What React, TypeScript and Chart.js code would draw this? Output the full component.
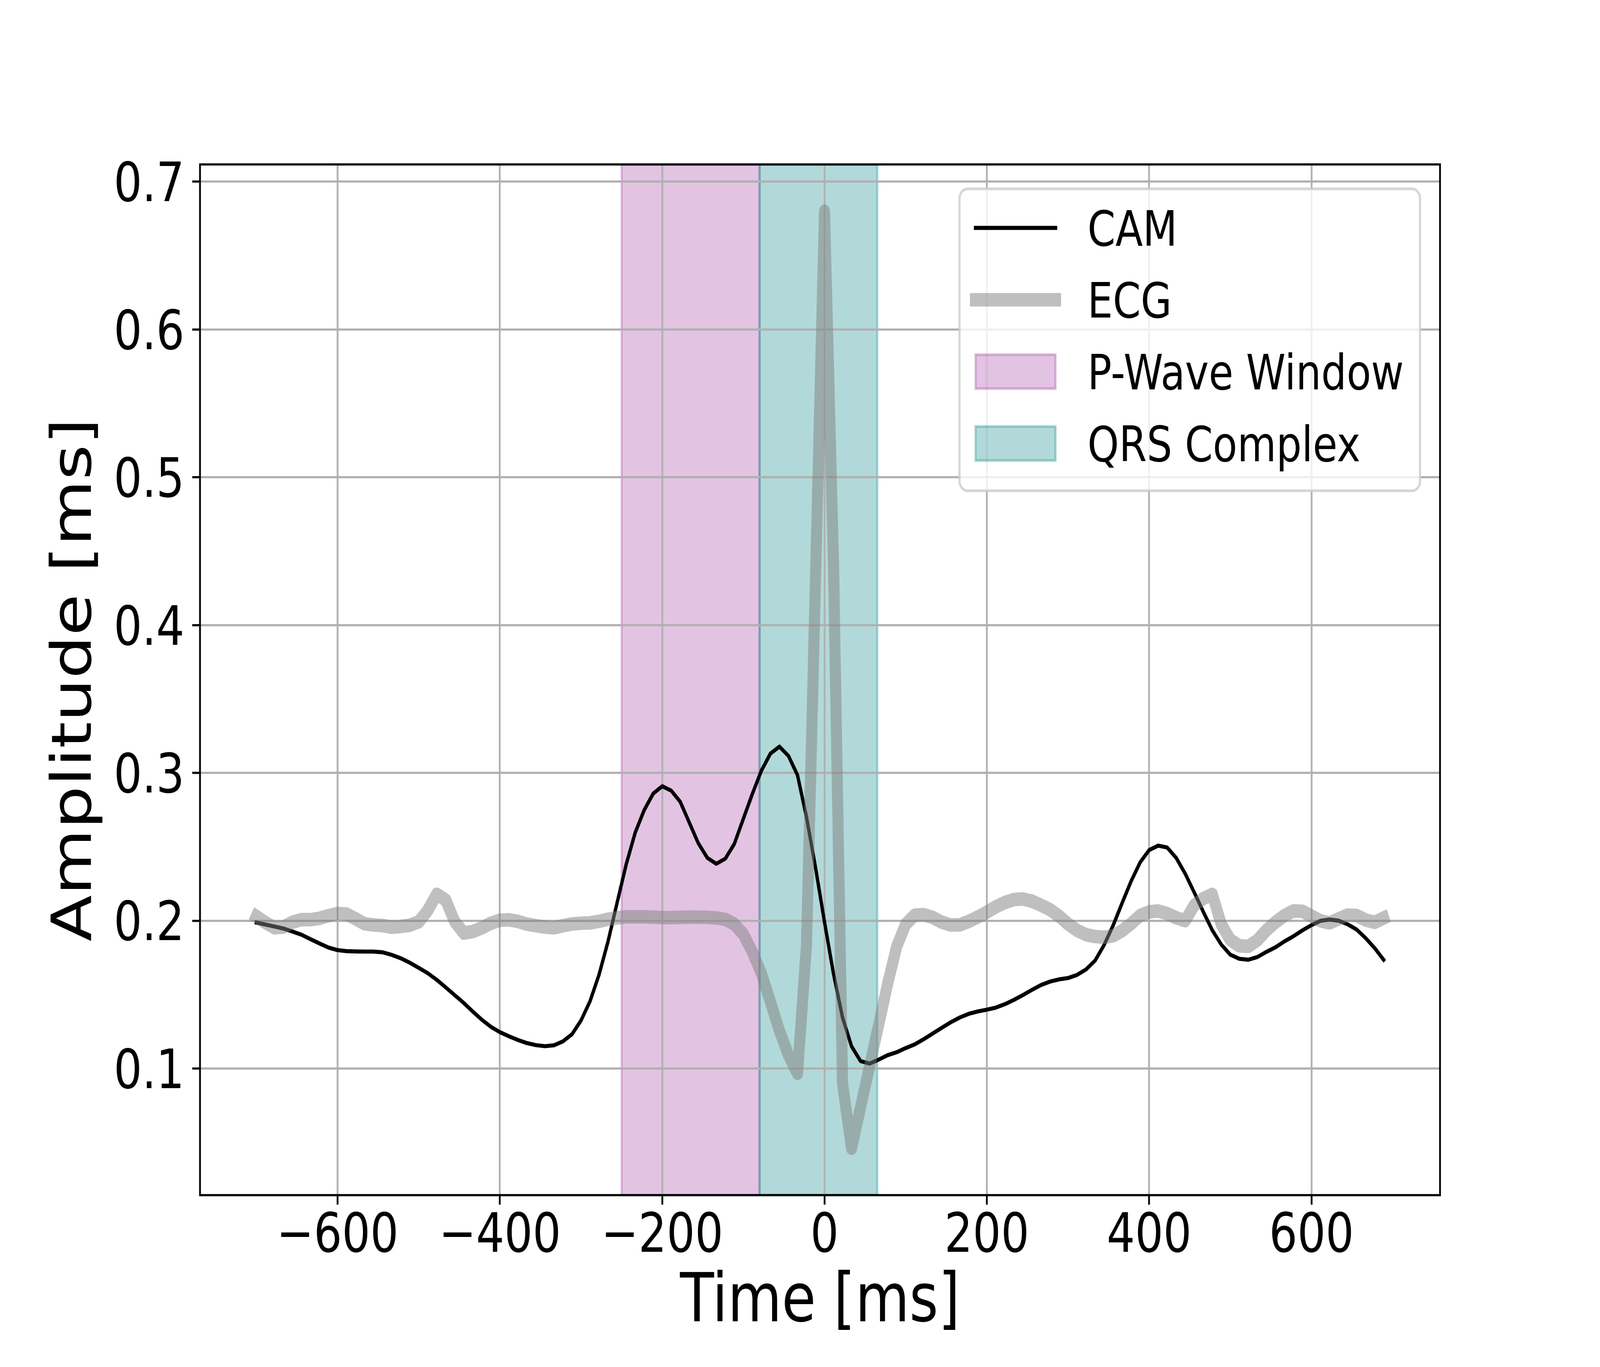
import { useEffect, useRef } from "react";
import { Chart, registerables } from "chart.js";

Chart.register(...registerables);

// sample times (ms), camera and ECG traces
const TIME_MS = [
  -700.0, -688.9, -677.8, -666.7, -655.6, -644.4, -633.3, -622.2, -611.1, -600.0,
  -588.9, -577.8, -566.7, -555.6, -544.4, -533.3, -522.2, -511.1, -500.0, -488.9,
  -477.8, -466.7, -455.6, -444.4, -433.3, -422.2, -411.1, -400.0, -388.9, -377.8,
  -366.7, -355.6, -344.4, -333.3, -322.2, -311.1, -300.0, -288.9, -277.8, -266.7,
  -255.6, -244.4, -233.3, -222.2, -211.1, -200.0, -188.9, -177.8, -166.7, -155.6,
  -144.4, -133.3, -122.2, -111.1, -100.0, -88.9, -77.8, -66.7, -55.6, -44.4,
  -33.3, -22.2, -11.1, 0.0, 11.1, 22.2, 33.3, 44.4, 55.6, 66.7,
  77.8, 88.9, 100.0, 111.1, 122.2, 133.3, 144.4, 155.6, 166.7, 177.8,
  188.9, 200.0, 211.1, 222.2, 233.3, 244.4, 255.6, 266.7, 277.8, 288.9,
  300.0, 311.1, 322.2, 333.3, 344.4, 355.6, 366.7, 377.8, 388.9, 400.0,
  411.1, 422.2, 433.3, 444.4, 455.6, 466.7, 477.8, 488.9, 500.0, 511.1,
  522.2, 533.3, 544.4, 555.6, 566.7, 577.8, 588.9, 600.0, 611.1, 622.2,
  633.3, 644.4, 655.6, 666.7, 677.8, 688.9,
];

const CAM = [
  0.1987, 0.1974, 0.1961, 0.1947, 0.1927, 0.1905, 0.1875, 0.1846, 0.1818, 0.1801,
  0.1794, 0.1792, 0.1791, 0.1791, 0.1786, 0.1769, 0.1746, 0.1716, 0.1681, 0.1645,
  0.1600, 0.1549, 0.1496, 0.1443, 0.1385, 0.1330, 0.1282, 0.1246, 0.1218, 0.1193,
  0.1172, 0.1158, 0.1151, 0.1157, 0.1184, 0.1232, 0.1325, 0.1455, 0.1635, 0.1860,
  0.2120, 0.2380, 0.2595, 0.2748, 0.2860, 0.2910, 0.2880, 0.2805, 0.2665, 0.2525,
  0.2425, 0.2385, 0.2420, 0.2520, 0.2690, 0.2858, 0.3015, 0.3130, 0.3178, 0.3115,
  0.2985, 0.2700, 0.2360, 0.1990, 0.1640, 0.1345, 0.1150, 0.1050, 0.1033, 0.1060,
  0.1090, 0.1110, 0.1138, 0.1163, 0.1198, 0.1237, 0.1275, 0.1313, 0.1345, 0.1370,
  0.1386, 0.1398, 0.1412, 0.1435, 0.1464, 0.1497, 0.1532, 0.1565, 0.1588, 0.1603,
  0.1612, 0.1633, 0.1670, 0.1730, 0.1835, 0.1968, 0.2120, 0.2268, 0.2395, 0.2478,
  0.2508, 0.2495, 0.2425, 0.2318, 0.2190, 0.2060, 0.1935, 0.1838, 0.1770, 0.1742,
  0.1736, 0.1754, 0.1789, 0.1820, 0.1860, 0.1895, 0.1935, 0.1970, 0.1999, 0.2008,
  0.2000, 0.1976, 0.1940, 0.1882, 0.1815, 0.1735,
];

const ECG = [
  0.2029, 0.1988, 0.1952, 0.1957, 0.1990, 0.2007, 0.2007, 0.2016, 0.2034, 0.2049,
  0.2045, 0.2013, 0.1979, 0.1971, 0.1967, 0.1956, 0.1961, 0.1969, 0.1992, 0.2069,
  0.2179, 0.2140, 0.1994, 0.1916, 0.1927, 0.1951, 0.1983, 0.2003, 0.2006, 0.1995,
  0.1977, 0.1966, 0.1957, 0.1952, 0.1966, 0.1978, 0.1983, 0.1985, 0.1996, 0.2010,
  0.2019, 0.2026, 0.2027, 0.2026, 0.2024, 0.2021, 0.2021, 0.2022, 0.2024, 0.2024,
  0.2022, 0.2019, 0.2009, 0.1977, 0.1908, 0.1790, 0.1643, 0.1452, 0.1256, 0.1091,
  0.0967, 0.1839, 0.4320, 0.6800, 0.4400, 0.0900, 0.0460, 0.0738, 0.1017, 0.1295,
  0.1574, 0.1825, 0.1976, 0.2037, 0.2041, 0.2022, 0.1990, 0.1971, 0.1972, 0.1995,
  0.2025, 0.2058, 0.2094, 0.2123, 0.2143, 0.2147, 0.2132, 0.2105, 0.2075, 0.2032,
  0.1978, 0.1935, 0.1905, 0.1893, 0.1888, 0.1898, 0.1932, 0.1980, 0.2035, 0.2060,
  0.2066, 0.2048, 0.2020, 0.2000, 0.2105, 0.2150, 0.2178, 0.1975, 0.1870, 0.1830,
  0.1826, 0.1868, 0.1935, 0.1990, 0.2035, 0.2066, 0.2064, 0.2032, 0.1999, 0.1985,
  0.2012, 0.2038, 0.2035, 0.2005, 0.1989, 0.2018,
];

const X_TICKS = [-600, -400, -200, 0, 200, 400, 600];
const Y_TICKS = [0.1, 0.2, 0.3, 0.4, 0.5, 0.6, 0.7];

const SPAN_LABELS = ["P-Wave Window", "QRS Complex"];
const SPAN_START = [-250, -80];
const SPAN_END = [-80, 65];

// figure is drawn at 5000x3500 (10x7 in at 500 dpi) and fitted to the window
const FIG_W = 5000;
const FIG_H = 3500;
const PT = 500 / 72;
const FONT = "DejaVu Sans";
const TICK_SIZE = 20 * PT;
const LABEL_SIZE = 25 * PT;
const LEGEND_SIZE = 18 * PT;
const GRID = "#b0b0b0";
const CAM_COLOR = "#000000";
const ECG_COLOR = "rgba(128,128,128,0.5)";
const SPAN_COLORS = ["rgba(128,0,128,0.23)", "rgba(0,128,128,0.3)"];

const fmtMinus = (v: number) => (v < 0 ? "\u2212" + Math.abs(v) : String(v));

const spanPlugin = {
  id: "spans",
  beforeDraw(chart: any) {
    const { ctx, chartArea: a, scales } = chart;
    const x = scales.x;
    ctx.save();
    ctx.beginPath();
    ctx.rect(a.left, a.top, a.right - a.left, a.bottom - a.top);
    ctx.clip();
    SPAN_START.forEach((s, i) => {
      const x0 = x.getPixelForValue(s);
      const x1 = x.getPixelForValue(SPAN_END[i]);
      ctx.fillStyle = SPAN_COLORS[i];
      ctx.fillRect(x0, a.top, x1 - x0, a.bottom - a.top);
      ctx.strokeStyle = SPAN_COLORS[i];
      ctx.lineWidth = PT;
      ctx.strokeRect(x0, a.top, x1 - x0, a.bottom - a.top);
    });
    ctx.restore();
  },
};

const framePlugin = {
  id: "frame",
  afterDatasetsDraw(chart: any) {
    const { ctx, chartArea: a } = chart;
    ctx.save();
    ctx.strokeStyle = "#000";
    ctx.lineWidth = 0.8 * PT;
    ctx.strokeRect(a.left, a.top, a.right - a.left, a.bottom - a.top);
    ctx.restore();
  },
};

function roundRectPath(ctx: CanvasRenderingContext2D, x: number, y: number, w: number, h: number, r: number) {
  ctx.beginPath();
  ctx.moveTo(x + r, y);
  ctx.arcTo(x + w, y, x + w, y + h, r);
  ctx.arcTo(x + w, y + h, x, y + h, r);
  ctx.arcTo(x, y + h, x, y, r);
  ctx.arcTo(x, y, x + w, y, r);
  ctx.closePath();
}

const legendPlugin = {
  id: "boxLegend",
  afterDraw(chart: any) {
    const { ctx, chartArea: a } = chart;
    const fs = LEGEND_SIZE;
    const w = 1439;
    const h = 773;
    const right = a.right - 0.5 * fs;
    const top = a.top + 0.5 * fs;
    const left = right - w;

    ctx.save();
    roundRectPath(ctx, left, top, w, h, 0.2 * fs);
    ctx.fillStyle = "rgba(255,255,255,0.8)";
    ctx.fill();
    ctx.strokeStyle = "rgba(204,204,204,0.8)";
    ctx.lineWidth = PT;
    ctx.stroke();

    const hx0 = left + 0.4 * fs;
    const hx1 = hx0 + 2 * fs;
    const tx = hx1 + 0.8 * fs;
    const rowH = 184;
    const ds = chart.data.datasets;
    const entries = [
      { label: ds[0].label, kind: "line", color: ds[0].borderColor, width: ds[0].borderWidth },
      { label: ds[1].label, kind: "line", color: ds[1].borderColor, width: ds[1].borderWidth },
      { label: SPAN_LABELS[0], kind: "patch", color: SPAN_COLORS[0], width: PT },
      { label: SPAN_LABELS[1], kind: "patch", color: SPAN_COLORS[1], width: PT },
    ];
    entries.forEach((e, i) => {
      const cy = top + 100 + i * rowH;
      if (e.kind === "line") {
        ctx.beginPath();
        ctx.moveTo(hx0, cy);
        ctx.lineTo(hx1, cy);
        ctx.strokeStyle = e.color;
        ctx.lineWidth = e.width;
        ctx.lineCap = "square";
        ctx.stroke();
      } else {
        const ph = 0.7 * fs;
        ctx.fillStyle = e.color;
        ctx.fillRect(hx0, cy - ph / 2, hx1 - hx0, ph);
        ctx.strokeStyle = e.color;
        ctx.lineWidth = e.width;
        ctx.strokeRect(hx0, cy - ph / 2, hx1 - hx0, ph);
      }
      ctx.fillStyle = "#000";
      ctx.font = `${fs}px "${FONT}"`;
      ctx.textBaseline = "alphabetic";
      ctx.textAlign = "left";
      ctx.fillText(e.label, tx, cy + 0.3645 * fs);
    });
    ctx.restore();
  },
};

export default function App() {
  const canvasRef = useRef<HTMLCanvasElement>(null);
  const chartRef = useRef<Chart | null>(null);
  const sx = (window.innerWidth || FIG_W) / FIG_W;
  const sy = (window.innerHeight || FIG_H) / FIG_H;

  useEffect(() => {
    document.body.style.margin = "0";
    document.body.style.overflow = "hidden";
    if (!canvasRef.current) return;
    chartRef.current?.destroy();

    const grid = {
      color: GRID,
      lineWidth: 0.8 * PT,
      drawTicks: true,
      tickLength: 3.5 * PT,
      tickColor: "#000",
      tickWidth: 0.8 * PT,
    };

    chartRef.current = new Chart(canvasRef.current, {
      type: "line",
      data: {
        datasets: [
          {
            label: "CAM",
            data: TIME_MS.map((t, i) => ({ x: t, y: CAM[i] })),
            borderColor: CAM_COLOR,
            borderWidth: 1.5 * PT,
            pointRadius: 0,
            tension: 0,
            borderJoinStyle: "round",
            borderCapStyle: "square",
            fill: false,
            order: 1,
          },
          {
            label: "ECG",
            data: TIME_MS.map((t, i) => ({ x: t, y: ECG[i] })),
            borderColor: ECG_COLOR,
            borderWidth: 5 * PT,
            pointRadius: 0,
            tension: 0,
            borderJoinStyle: "round",
            borderCapStyle: "square",
            fill: false,
            order: 0,
          },
        ],
      },
      options: {
        responsive: false,
        animation: false,
        devicePixelRatio: 1,
        events: [],
        layout: { autoPadding: false, padding: { top: 421, right: 500, bottom: 0, left: 0 } },
        plugins: { legend: { display: false }, tooltip: { enabled: false } },
        scales: {
          x: {
            type: "linear",
            position: "bottom",
            min: -769.44,
            max: 758.33,
            afterBuildTicks: (scale: any) => { scale.ticks = X_TICKS.map((v) => ({ value: v })); },
            afterFit: (scale: any) => { scale.height = 440; },
            grid,
            border: { display: false },
            ticks: {
              color: "#000",
              font: { family: FONT, size: TICK_SIZE },
              padding: 1,
              maxRotation: 0,
              autoSkip: false,
              callback: (v: any) => fmtMinus(Number(v)),
            },
            title: {
              display: true,
              text: "Time [ms]",
              color: "#000",
              font: { family: FONT, size: LABEL_SIZE },
              padding: { top: 0, bottom: 58 },
            },
          },
          y: {
            type: "linear",
            position: "left",
            min: 0.0143,
            max: 0.7117,
            afterBuildTicks: (scale: any) => { scale.ticks = Y_TICKS.map((v) => ({ value: v })); },
            afterFit: (scale: any) => { scale.width = 625; },
            grid,
            border: { display: false },
            ticks: {
              color: "#000",
              font: { family: FONT, size: TICK_SIZE },
              padding: 3.5 * PT,
              labelOffset: 14,
              autoSkip: false,
              callback: (v: any) => Number(v).toFixed(1),
            },
            title: {
              display: true,
              text: "Amplitude [ms]",
              color: "#000",
              font: { family: FONT, size: LABEL_SIZE },
              padding: { top: 135, bottom: 0 },
            },
          },
        },
      },
      plugins: [spanPlugin, framePlugin, legendPlugin],
    } as any);

    return () => { chartRef.current?.destroy(); chartRef.current = null; };
  }, []);

  return (
    <div style={{ width: "100vw", height: "100vh", overflow: "hidden", background: "#fff" }}>
      <div style={{ width: FIG_W, height: FIG_H, transform: `scale(${sx}, ${sy})`, transformOrigin: "0 0" }}>
        <canvas ref={canvasRef} width={FIG_W} height={FIG_H} style={{ display: "block", width: FIG_W, height: FIG_H }} />
      </div>
    </div>
  );
}
